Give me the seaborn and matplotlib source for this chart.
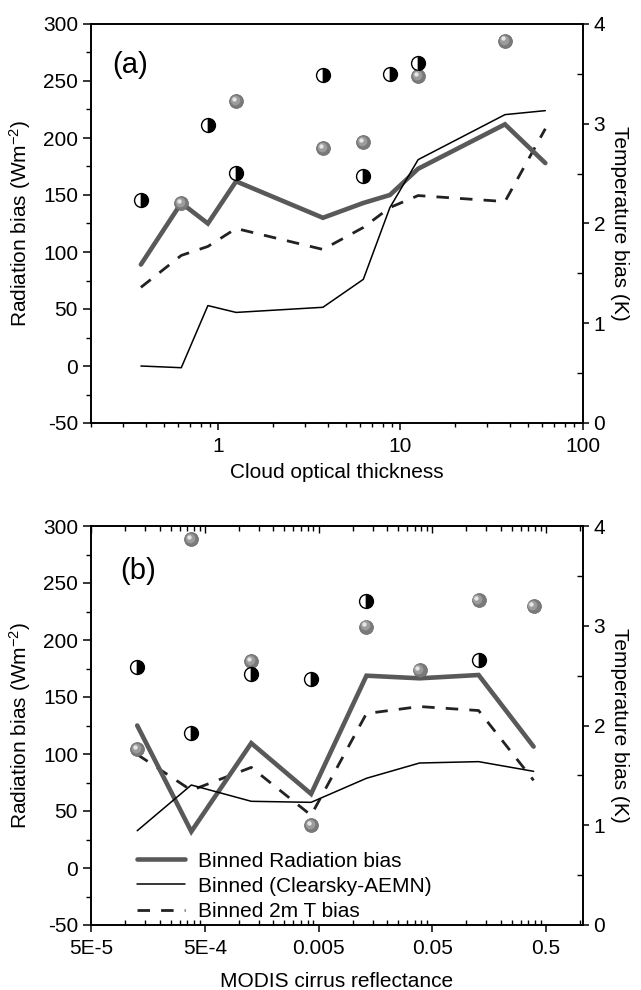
import numpy as np
import pandas as pd
import matplotlib
matplotlib.use("Agg")
import matplotlib.pyplot as plt
import matplotlib.ticker as mticker
from matplotlib.transforms import offset_copy
from matplotlib.lines import Line2D
import seaborn as sns

# ---------------- data (panel a) ----------------
tau = [0.375, 0.625, 0.875, 1.25, 3.75, 6.25, 8.75, 12.5, 37.5, 62.5]
rad_a = [89, 143, 125, 162, 130, 143, 150, 173, 212, 178]
clr_a = [0, -1.5, 53, 47, 51.5, 76, 139, 181, 220.5, 224]
t2m_a = [1.36, 1.68, 1.77, 1.95, 1.74, 1.96, 2.16, 2.28, 2.22, 2.95]
ball_a_x = [0.625, 1.25, 3.75, 6.25, 12.5, 37.5]
ball_a_y = [142.7, 232.2, 191.1, 196.4, 254.2, 285.3]
half_a_x = [0.375, 0.875, 1.25, 3.75, 6.25, 8.75, 12.5]
half_a_y = [145.6, 211.1, 169.4, 255.1, 167.0, 256.0, 266.0]

# ---------------- data (panel b) ----------------
refl = [1.27e-4, 3.8e-4, 1.28e-3, 4.3e-3, 0.0132, 0.0387, 0.128, 0.39]
rad_b = [125, 32, 109.5, 65, 168.7, 166.4, 169.3, 106.5]
clr_b = [32.7, 72.8, 58.5, 57.6, 78.7, 92.1, 93.3, 84.8]
t2m_b = [1.71, 1.35, 1.58, 1.10, 2.12, 2.19, 2.15, 1.45]
ball_b_x = [1.27e-4, 3.8e-4, 1.28e-3, 4.3e-3, 0.0132, 0.0387, 0.128, 0.39]
ball_b_y = [104.4, 288.6, 181.6, 37.7, 211.7, 173.7, 235.1, 229.8]
half_b_x = [1.27e-4, 3.8e-4, 1.28e-3, 4.3e-3, 0.0132, 0.128]
half_b_y = [176.6, 118.7, 169.9, 165.8, 234.5, 182.5]

xt_a = [1, 10, 100]
xt_a_labels = ["1", "10", "100"]
xt_b = [5e-5, 5e-4, 5e-3, 5e-2, 0.5]
xt_b_labels = ["5E-5", "5E-4", "0.005", "0.05", "0.5"]

legend_labels = ["Binned Radiation bias", "Binned (Clearsky-AEMN)", "Binned 2m T bias"]

sns.set_theme(style="ticks")
plt.rcParams["font.family"] = ["Liberation Sans", "DejaVu Sans"]
plt.rcParams["mathtext.fontset"] = "custom"
plt.rcParams["mathtext.rm"] = "Liberation Sans"
plt.rcParams["mathtext.it"] = "Liberation Sans:italic"
plt.rcParams["axes.unicode_minus"] = False
plt.rcParams["text.color"] = "black"
plt.rcParams["axes.labelcolor"] = "black"
plt.rcParams["xtick.color"] = "black"
plt.rcParams["ytick.color"] = "black"
plt.rcParams["legend.labelcolor"] = "black"

FS = 15
THICK_C = "#595959"
DASH_C = "#222222"

fig = plt.figure(figsize=(6.41, 9.90), dpi=100)
W, H = 641.0, 990.0
ax_a = fig.add_axes([91.2 / W, 1 - 423 / H, 491.3 / W, 399 / H])
ax_b = fig.add_axes([91.2 / W, 1 - 925 / H, 491.3 / W, 399 / H])


def balls(ax, x, y):
    sns.scatterplot(x=x, y=y, ax=ax, s=100, color="#7a7a7a", edgecolor="#666666",
                    linewidth=0.5, zorder=6, legend=False)
    tr1 = offset_copy(ax.transData, fig=fig, x=-0.9, y=0.9, units="points")
    ax.scatter(x, y, s=48, color="#9c9c9c", linewidth=0, transform=tr1, zorder=7)
    tr2 = offset_copy(ax.transData, fig=fig, x=-1.7, y=1.7, units="points")
    ax.scatter(x, y, s=10, color="#e6e6e6", linewidth=0, transform=tr2, zorder=8)


def halves(ax, x, y):
    ax.plot(x, y, linestyle="none", marker="o", markersize=10, fillstyle="left",
            markerfacecolor="white", markerfacecoloralt="black",
            markeredgecolor="black", markeredgewidth=1.0, zorder=6)


def panel(ax, xs, rad, clr, t2m, bx, by, hx, hy):
    ax2 = ax.twinx()
    ax.set_zorder(ax2.get_zorder() + 1)
    ax.patch.set_visible(False)
    sns.lineplot(x=xs, y=t2m, ax=ax2, color=DASH_C, linewidth=2.0,
                 linestyle=(0, (4.5, 4)), sort=False, estimator=None)
    sns.lineplot(x=xs, y=rad, ax=ax, color=THICK_C, linewidth=3.3,
                 sort=False, estimator=None, solid_joinstyle="miter")
    sns.lineplot(x=xs, y=clr, ax=ax, color="black", linewidth=1.1,
                 sort=False, estimator=None)
    balls(ax, bx, by)
    halves(ax, hx, hy)

    ax.set_xscale("log")
    ax2.set_xscale("log")
    ax.set_ylim(-50, 300)
    ax2.set_ylim(0, 4)
    ax.yaxis.set_major_locator(mticker.MultipleLocator(50))
    ax.yaxis.set_minor_locator(mticker.MultipleLocator(25))
    ax2.yaxis.set_major_locator(mticker.MultipleLocator(1))
    ax2.yaxis.set_minor_locator(mticker.MultipleLocator(0.5))
    ax2.yaxis.set_major_formatter(mticker.FormatStrFormatter("%d"))

    for a in (ax, ax2):
        for s in a.spines.values():
            s.set_linewidth(1.2)
            s.set_color("black")
    ax.tick_params(axis="y", which="major", direction="out", length=5.5, width=1.1,
                   labelsize=FS, pad=4, colors="black")
    ax.tick_params(axis="y", which="minor", direction="out", length=3.5, width=1.0)
    ax2.tick_params(axis="y", which="major", direction="out", length=4, width=1.1,
                    labelsize=FS, pad=4, colors="black")
    ax2.tick_params(axis="y", which="minor", direction="in", length=4, width=1.0)

    ax.set_ylabel("Radiation bias (Wm$^{-2}$)", fontsize=FS, color="black")
    ax.yaxis.set_label_coords(-0.118, 0.5)
    ax2.set_ylabel("Temperature bias (K)", fontsize=FS, rotation=270, color="black")
    ax2.yaxis.label.set_va("bottom")
    ax2.yaxis.set_label_coords(1.055, 0.5)
    return ax2


# ---------------- panel (a) ----------------
ax2a = panel(ax_a, tau, rad_a, clr_a, t2m_a, ball_a_x, ball_a_y, half_a_x, half_a_y)
ax_a.set_xlim(0.2, 100)
ax_a.set_xticks(xt_a)
ax_a.set_xticklabels(xt_a_labels)
ax_a.xaxis.set_minor_locator(mticker.LogLocator(base=10, subs=np.arange(2, 10)))
ax_a.xaxis.set_minor_formatter(mticker.NullFormatter())
ax_a.tick_params(axis="x", which="major", direction="out", length=5, width=1.1,
                 labelsize=FS, pad=5, colors="black")
ax_a.tick_params(axis="x", which="minor", direction="out", length=3, width=1.0)
ax_a.set_xlabel("Cloud optical thickness", fontsize=FS, color="black", labelpad=5)
ax_a.text(0.043, 0.897, "(a)", transform=ax_a.transAxes, fontsize=21,
          ha="left", va="center", color="black")

# ---------------- panel (b) ----------------
ax2b = panel(ax_b, refl, rad_b, clr_b, t2m_b, ball_b_x, ball_b_y, half_b_x, half_b_y)
ax_b.set_xlim(5e-5, 1.05)
ax_b.set_xticks(xt_b)
ax_b.set_xticklabels(xt_b_labels)
minor_b = [m * 5e-5 * 10 ** k for k in range(0, 4) for m in range(2, 10)] + [1.0]
ax_b.xaxis.set_minor_locator(mticker.FixedLocator(minor_b))
ax_b.xaxis.set_minor_formatter(mticker.NullFormatter())
ax_b.tick_params(axis="x", which="major", direction="out", length=5, width=1.1,
                 labelsize=FS, pad=5, colors="black")
ax_b.tick_params(axis="x", which="minor", direction="in", length=3.5, width=1.0)
sec = ax_b.secondary_xaxis("top")
sec.set_xticks(xt_b)
sec.xaxis.set_minor_locator(mticker.FixedLocator(minor_b))
sec.tick_params(axis="x", which="both", direction="in", labeltop=False, width=1.0)
sec.tick_params(axis="x", which="major", length=5)
sec.tick_params(axis="x", which="minor", length=3.5)
sec.spines["top"].set_linewidth(1.2)
ax_b.set_xlabel("MODIS cirrus reflectance", fontsize=FS, color="black", labelpad=10)
ax_b.text(0.059, 0.887, "(b)", transform=ax_b.transAxes, fontsize=21,
          ha="left", va="center", color="black")

handles = [Line2D([], [], color=THICK_C, linewidth=3.3),
           Line2D([], [], color="black", linewidth=1.1),
           Line2D([], [], color=DASH_C, linewidth=2.0, linestyle=(0, (4.5, 4)))]
leg = ax_b.legend(handles, legend_labels, loc="lower left", bbox_to_anchor=(0.094, 0.01),
                  frameon=False, fontsize=FS, handlelength=2.3, handletextpad=0.6,
                  labelspacing=0.3, borderpad=0, borderaxespad=0)
for t in leg.get_texts():
    t.set_color("black")

fig.savefig("out.png", dpi=100)
